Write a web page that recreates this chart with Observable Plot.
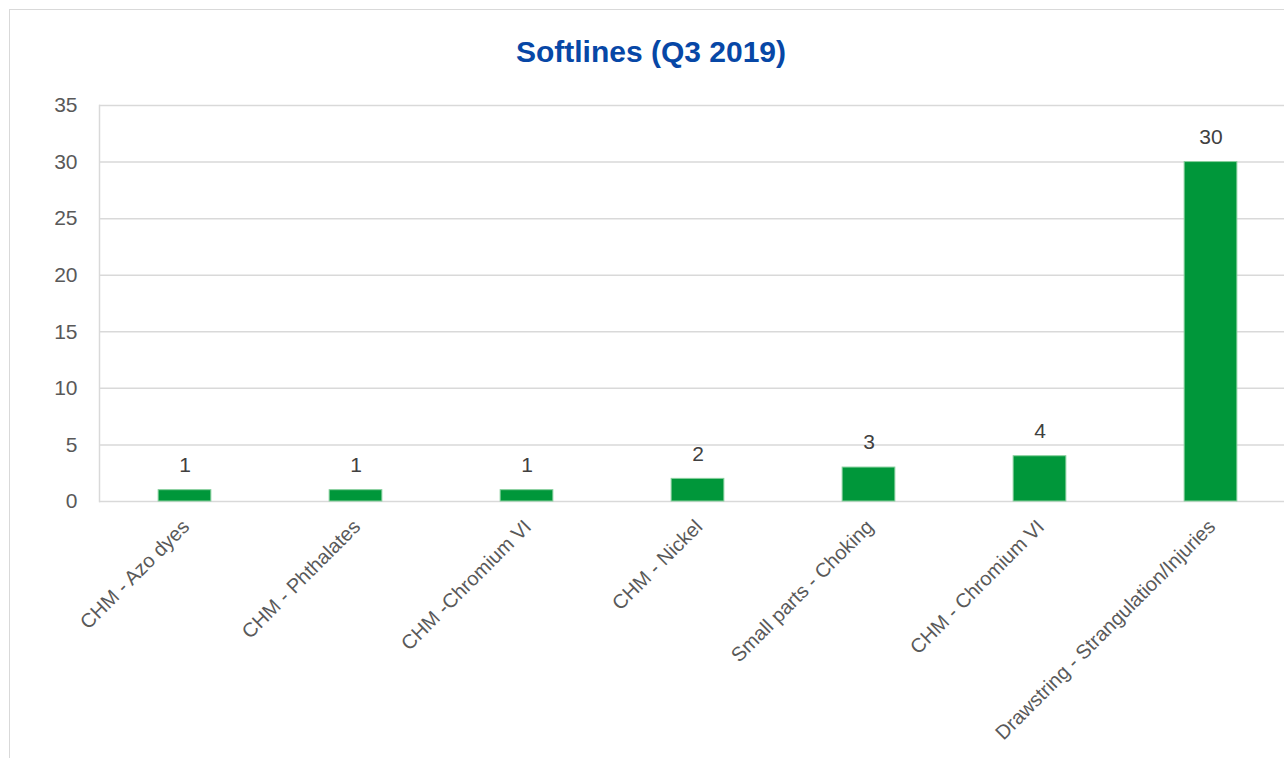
<!DOCTYPE html>
<html>
<head>
<meta charset="utf-8">
<script src="https://cdn.jsdelivr.net/npm/d3@7"></script>
<script src="https://cdn.jsdelivr.net/npm/@observablehq/plot@0.6"></script>
<style>
  html, body { margin: 0; padding: 0; background: #fff; overflow: hidden; width: 1284px; height: 758px; }
  #frame { position: absolute; left: 9px; top: 9px; width: 1400px; height: 800px;
           border-left: 1.5px solid #d9d9d9; border-top: 1.5px solid #d9d9d9; }
  #title { position: absolute; left: 0; top: 37px; width: 1302px; text-align: center;
           font: bold 30px "Liberation Sans", Arial, sans-serif; line-height: 30px; color: #0747a6; }
  #chart { position: absolute; left: 0; top: 90px; width: 1296px; }
  #chart svg { max-width: none !important; }
</style>
</head>
<body>
<div id="frame"></div>
<div id="title">Softlines (Q3 2019)</div>
<div id="chart"></div>
<script>
const categories = [
  "CHM - Azo dyes",
  "CHM - Phthalates",
  "CHM -Chromium VI",
  "CHM - Nickel",
  "Small parts - Choking",
  "CHM - Chromium VI",
  "Drawstring - Strangulation/Injuries"
];
const values = [1, 1, 1, 2, 3, 4, 30];
const yTicks = [0, 5, 10, 15, 20, 25, 30, 35];

const data = categories.map((c, i) => ({category: c, value: values[i]}));

const chart = Plot.plot({
  width: 1296,
  height: 668,
  marginLeft: 99,
  marginRight: 0,
  marginTop: 15,
  marginBottom: 257,
  style: {fontFamily: "'Liberation Sans', Arial, sans-serif", fontSize: "20px", background: "transparent", overflow: "visible", maxWidth: "none"},
  x: {domain: categories, paddingInner: 0.686, paddingOuter: 0.343, round: false, axis: null},
  y: {domain: [0, 35], axis: null},
  marks: [
    Plot.gridY(yTicks, {stroke: "#d9d9d9", strokeOpacity: 1, strokeWidth: 1.5}),
    Plot.frame({anchor: "left", stroke: "#d9d9d9", strokeWidth: 1.5}),
    Plot.axisY(yTicks, {tickSize: 0, tickPadding: 22, fontSize: 21, fill: "#595959", label: null}),
    Plot.barY(data, {x: "category", y: "value", fill: "#00973a", stroke: "#86cf9c", strokeWidth: 1, insetLeft: 0.5, insetRight: 0.5}),
    Plot.text(data, {x: "category", y: "value", text: d => String(d.value), dy: -25, fontSize: 21, fill: "#404040"}),
    Plot.text(data, {x: "category", y: () => 0, text: "category", rotate: -45, textAnchor: "end", dy: 22, dx: 1, fontSize: 20, fill: "#595959"})
  ]
});
document.getElementById("chart").appendChild(chart);
</script>
</body>
</html>
